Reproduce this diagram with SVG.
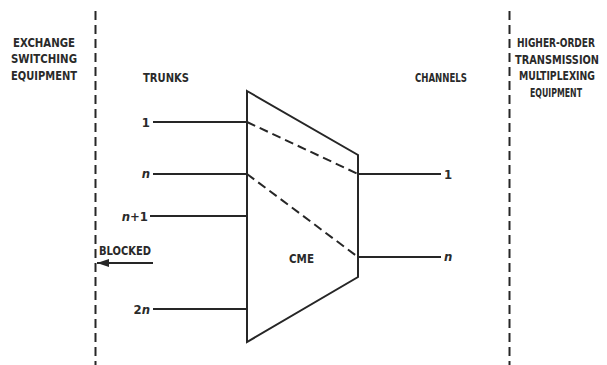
<svg xmlns="http://www.w3.org/2000/svg" width="607" height="365" viewBox="0 0 607 365">
<defs>
<style>
text{font-family:"DejaVu Sans Condensed","Liberation Sans",sans-serif;font-size:13px;font-weight:bold;fill:#2a2a2a;}
.it{font-style:italic;}
.rt{font-size:11.5px;}
.ln{stroke:#262626;stroke-width:2;fill:none;}
.bd{stroke:#262626;stroke-width:2;fill:none;stroke-dasharray:9 5;}
.dd{stroke:#262626;stroke-width:2;fill:none;stroke-dasharray:9 5;}
</style>
<marker id="ah" viewBox="0 0 12 8" refX="12" refY="4" markerWidth="12" markerHeight="8" markerUnits="userSpaceOnUse" orient="auto">
<path d="M0,0 L12,4 L0,8 Z" fill="#262626"/>
</marker>
</defs>
<rect width="607" height="365" fill="#fff"/>
<g id="boundaries">
<line class="bd" x1="95.5" y1="11" x2="95.5" y2="365"/>
<line class="bd" x1="509.5" y1="11" x2="509.5" y2="365"/>
</g>
<g id="exchange">
<text x="44" y="47" text-anchor="middle" textLength="62" lengthAdjust="spacingAndGlyphs">EXCHANGE</text>
<text x="44" y="63" text-anchor="middle" textLength="66" lengthAdjust="spacingAndGlyphs">SWITCHING</text>
<text x="44" y="80" text-anchor="middle" textLength="66" lengthAdjust="spacingAndGlyphs">EQUIPMENT</text>
</g>
<g id="multiplexing">
<text class="rt" x="556" y="47" text-anchor="middle" textLength="78" lengthAdjust="spacingAndGlyphs">HIGHER-ORDER</text>
<text class="rt" x="557" y="64" text-anchor="middle" textLength="84" lengthAdjust="spacingAndGlyphs">TRANSMISSION</text>
<text class="rt" x="557" y="80" text-anchor="middle" textLength="76" lengthAdjust="spacingAndGlyphs">MULTIPLEXING</text>
<text class="rt" x="556" y="97" text-anchor="middle" textLength="52" lengthAdjust="spacingAndGlyphs">EQUIPMENT</text>
</g>
<g id="headings">
<text x="143" y="82" textLength="46" lengthAdjust="spacingAndGlyphs">TRUNKS</text>
<text x="415" y="82" textLength="52" lengthAdjust="spacingAndGlyphs">CHANNELS</text>
</g>
<g id="cme">
<path class="ln" d="M247,91 L358,155 L358,277 L247,342 Z"/>
<text x="289" y="263" textLength="25" lengthAdjust="spacingAndGlyphs">CME</text>
</g>
<g id="connectors">
<line class="ln" x1="153" y1="122" x2="247" y2="122"/>
<line class="ln" x1="153" y1="174" x2="247" y2="174"/>
<line class="ln" x1="150" y1="216" x2="247" y2="216"/>
<line class="ln" x1="153" y1="309" x2="247" y2="309"/>
<line class="ln" x1="358" y1="174" x2="441" y2="174"/>
<line class="ln" x1="358" y1="257" x2="441" y2="257"/>
<line class="dd" x1="247" y1="122" x2="358" y2="174"/>
<line class="dd" x1="247" y1="174" x2="358" y2="257"/>
<line class="ln" x1="153" y1="263" x2="97" y2="263" marker-end="url(#ah)"/>
</g>
<g id="labels">
<text x="150" y="127" text-anchor="end">1</text>
<text x="150" y="178" text-anchor="end" class="it">n</text>
<text x="148" y="221" text-anchor="end"><tspan class="it">n</tspan>+1</text>
<text x="150" y="314" text-anchor="end">2<tspan class="it">n</tspan></text>
<text x="444" y="179">1</text>
<text x="444" y="261" class="it">n</text>
<text x="99" y="255" textLength="52" lengthAdjust="spacingAndGlyphs">BLOCKED</text>
</g>
</svg>
